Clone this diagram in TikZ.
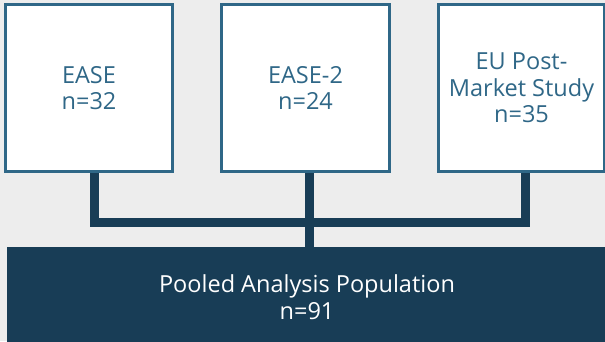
\documentclass[tikz,border=0pt]{standalone}
\usepackage{fontspec}
\setmainfont{Open Sans}
\usetikzlibrary{calc}
\definecolor{bg}{HTML}{EDEDED}
\definecolor{edgeblue}{HTML}{2F6787}
\definecolor{navy}{HTML}{183D56}
\begin{document}
\begin{tikzpicture}[x=1pt,y=-1pt,
  study/.style={draw=edgeblue, line width=3pt, fill=white, text=edgeblue, inner sep=0pt,
    minimum height=167pt, align=center, font=\fontsize{23.5}{26.5}\selectfont},
  link/.style={draw=navy, line width=9pt},
  pool/.style={fill=navy, text=white, inner sep=0pt, align=center,
    font=\fontsize{23.5}{26.5}\selectfont}]
\useasboundingbox (0,0) rectangle (605,341);
\fill[bg] (0,0) rectangle (605,341);
\clip (0,0) rectangle (605,341);
\node[study, minimum width=167pt] (s1) at (89,88) {EASE\\n=32};
\node[study, minimum width=168pt] (s2) at (305.5,88) {EASE-2\\n=24};
\node[study, minimum width=166pt] (s3) at (521.5,88) {EU Post-\\Market Study\\n=35};
\node[pool, minimum width=600pt, minimum height=100pt] (pool) at (307,297) {Pooled Analysis Population\\n=91};
\coordinate (j) at (309.5,222.5);
\draw[link] ($(s1.south)+(5.5,0)$) |- (j) -| ($(s3.south)+(4,0)$);
\draw[link] ($(s2.south)+(4,0)$) coordinate (t) -- (t |- pool.north);
\end{tikzpicture}
\end{document}
